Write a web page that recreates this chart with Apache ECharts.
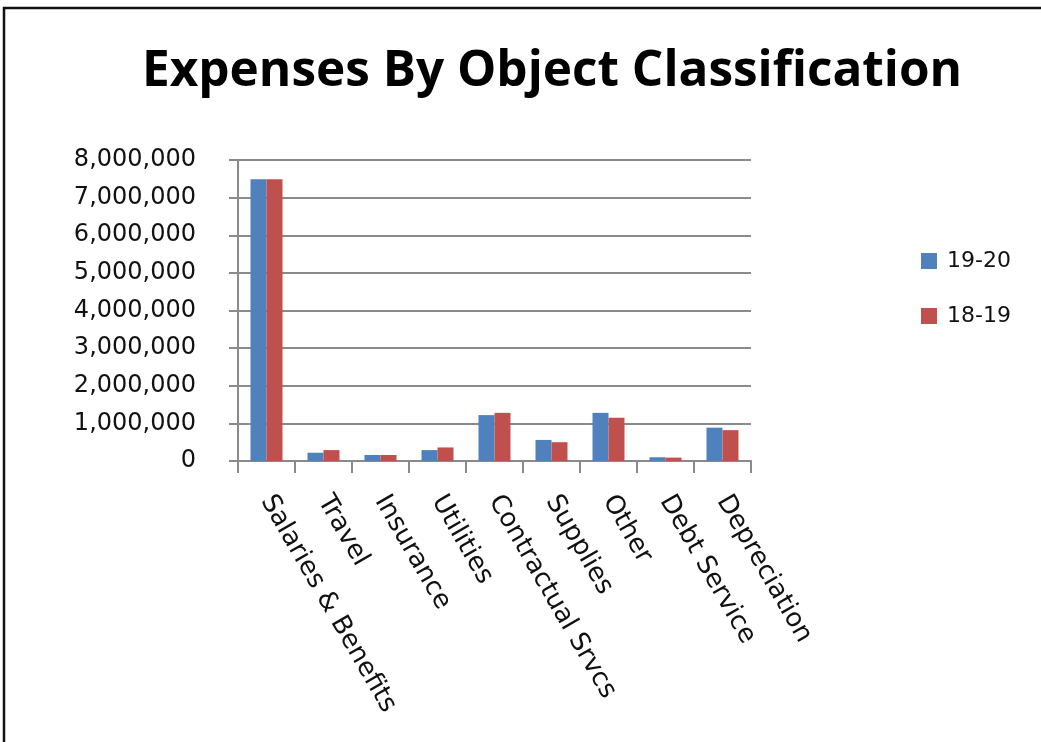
<!DOCTYPE html>
<html>
<head>
<meta charset="utf-8">
<script src="https://cdn.jsdelivr.net/npm/echarts@6/dist/echarts.min.js"></script>
<style>
  html, body { margin: 0; padding: 0; background: #fff; }
  #chart { width: 1041px; height: 742px; }
</style>
</head>
<body>
<div id="chart"></div>
<script>
// Expense categories and yearly totals (dollars)
const categories = ['Salaries & Benefits', 'Travel', 'Insurance', 'Utilities', 'Contractual Srvcs', 'Supplies', 'Other', 'Debt Service', 'Depreciation'];
const seriesNames = ['19-20', '18-19'];
const values1920 = [7490000, 220000, 160000, 290000, 1220000, 560000, 1280000, 100000, 886000];
const values1819 = [7490000, 290000, 160000, 360000, 1280000, 500000, 1150000, 90000, 820000];
const yMin = 0, yMax = 8000000, yStep = 1000000;

const gridColor = '#8a8a8a';
const labelFont = 'DejaVu Sans';

const chart = echarts.init(document.getElementById('chart'), null, { renderer: 'canvas' });
chart.setOption({
  backgroundColor: '#fff',
  animation: false,
  title: {
    text: 'Expenses By Object Classification',
    left: 547,
    top: 42,
    textAlign: 'center',
    textStyle: { fontFamily: 'Open Sans', fontWeight: 'bold', fontSize: 49.5, color: '#000' }
  },
  legend: {
    orient: 'vertical',
    left: 921,
    top: 250,
    padding: 0,
    itemWidth: 16,
    itemHeight: 16,
    itemGap: 33,
    icon: 'rect',
    data: seriesNames,
    textStyle: { fontFamily: labelFont, fontSize: 22, color: '#111', padding: [0, 0, 0, 5] }
  },
  grid: { left: 238, top: 160, width: 513, height: 301 },
  xAxis: {
    type: 'category',
    data: categories,
    axisLine: { lineStyle: { color: gridColor, width: 2 } },
    axisTick: { show: true, length: 12, lineStyle: { color: gridColor, width: 2 } },
    axisLabel: {
      interval: 0,
      rotate: -60,
      margin: 36,
      verticalAlign: 'middle',
      padding: [0, 0, 11, 0],
      fontFamily: labelFont,
      fontSize: 26,
      color: '#111'
    }
  },
  yAxis: {
    type: 'value',
    min: yMin,
    max: yMax,
    interval: yStep,
    axisLine: { show: true, lineStyle: { color: gridColor, width: 2 } },
    axisTick: { show: true, length: 9, lineStyle: { color: gridColor, width: 2 } },
    splitLine: { lineStyle: { color: gridColor, width: 2 } },
    axisLabel: {
      margin: 42,
      fontFamily: labelFont,
      fontSize: 24,
      color: '#111',
      formatter: v => v.toLocaleString('en-US')
    }
  },
  series: [
    { name: seriesNames[0], type: 'bar', data: values1920, barWidth: 16, barGap: '0%', itemStyle: { color: '#4F81BD' } },
    { name: seriesNames[1], type: 'bar', data: values1819, barWidth: 16, barGap: '0%', itemStyle: { color: '#C0504D' } }
  ],
  graphic: [
    {
      type: 'rect',
      shape: { x: 4, y: 8, width: 1100, height: 800 },
      style: { fill: 'none', stroke: '#111', lineWidth: 2.5 },
      silent: true
    }
  ]
});
</script>
</body>
</html>
